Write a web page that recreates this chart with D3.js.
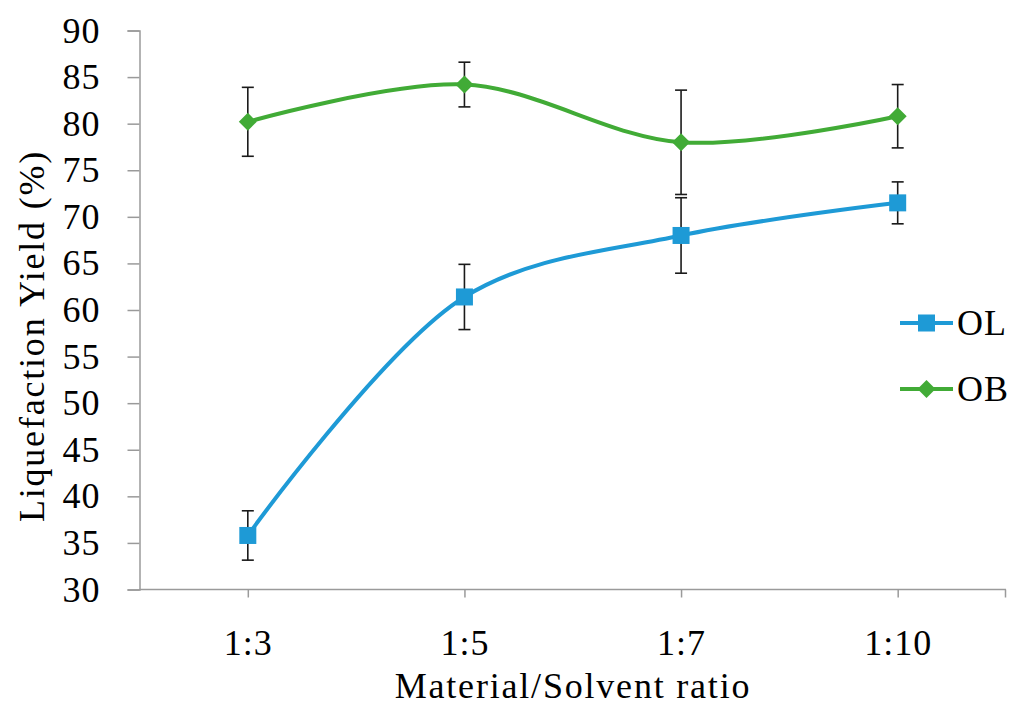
<!DOCTYPE html>
<html>
<head>
<meta charset="utf-8">
<script src="https://cdn.jsdelivr.net/npm/d3@7"></script>
<style>
  body { margin: 0; background: #fff; }
  text { font-family: "Liberation Serif", "Times New Roman", serif; fill: #000; }
</style>
</head>
<body>
<div id="chart"></div>
<script>
// data
var categories = ["1:3", "1:5", "1:7", "1:10"];
var olValues = [35.8, 61.4, 68.0, 71.5];
var olErrors = [2.65, 3.5, 4.05, 2.25];
var obValues = [80.2, 84.2, 78.0, 80.8];
var obErrors = [3.7, 2.4, 5.6, 3.4];
var yTicks = [30, 35, 40, 45, 50, 55, 60, 65, 70, 75, 80, 85, 90];

var series = [
  { name: "OL", values: olValues, errors: olErrors, color: "#1e9ad6", marker: "square" },
  { name: "OB", values: obValues, errors: obErrors, color: "#41ab36", marker: "diamond" }
];

var width = 1011, height = 706;
var margin = { top: 30.5, left: 139.5, right: 5, bottom: 116.5 };
var fontSize = 36;

var svg = d3.select("#chart").append("svg")
  .attr("width", width)
  .attr("height", height);

var x = d3.scalePoint()
  .domain(categories)
  .range([margin.left, width - margin.right])
  .padding(0.5);

var y = d3.scaleLinear()
  .domain([30, 90])
  .range([height - margin.bottom, margin.top]);

var axisColor = "#9a9a9a";

// y axis
var yAxis = svg.append("g")
  .attr("transform", "translate(" + margin.left + ",0)")
  .call(d3.axisLeft(y).tickValues(yTicks).tickSize(12).tickPadding(27));
yAxis.select(".domain").attr("stroke", axisColor).attr("stroke-width", 1.5);
yAxis.selectAll(".tick line").attr("stroke", axisColor).attr("stroke-width", 1.5);
yAxis.selectAll(".tick text")
  .attr("font-size", fontSize)
  .attr("font-family", "Liberation Serif, serif")
  .attr("letter-spacing", 1)
  .attr("fill", "#000");

// x axis (ticks on categories, plus the right end)
var xAxis = svg.append("g")
  .attr("transform", "translate(0," + y(30) + ")")
  .call(d3.axisBottom(x).tickSizeOuter(0).tickSize(8));
xAxis.select(".domain")
  .attr("d", "M" + margin.left + ",0H" + (width - margin.right))
  .attr("stroke", axisColor).attr("stroke-width", 1.5);
xAxis.selectAll(".tick line").attr("stroke", axisColor).attr("stroke-width", 1.5);
xAxis.selectAll(".tick text")
  .attr("y", 65)
  .attr("dy", null)
  .attr("font-size", fontSize)
  .attr("font-family", "Liberation Serif, serif")
  .attr("letter-spacing", 1)
  .attr("fill", "#000");
xAxis.append("line")
  .attr("x1", width - margin.right - 0.5).attr("x2", width - margin.right - 0.5)
  .attr("y1", 0).attr("y2", 8)
  .attr("stroke", axisColor).attr("stroke-width", 1.5);

// axis titles
svg.append("text")
  .attr("x", 573)
  .attr("y", 698)
  .attr("text-anchor", "middle")
  .attr("font-size", fontSize)
  .attr("letter-spacing", 1.8)
  .text("Material/Solvent ratio");

svg.append("text")
  .attr("transform", "translate(44,336) rotate(-90)")
  .attr("text-anchor", "middle")
  .attr("font-size", fontSize)
  .attr("letter-spacing", 1.8)
  .text("Liquefaction Yield (%)");

var line = d3.line()
  .x(function (d, i) { return x(categories[i]); })
  .y(function (d) { return y(d); })
  .curve(d3.curveCatmullRom.alpha(0.5));

var plot = svg.append("g");

series.forEach(function (s) {
  plot.append("path")
    .attr("d", line(s.values))
    .attr("fill", "none")
    .attr("stroke", s.color)
    .attr("stroke-width", 4);
});

// error bars
series.forEach(function (s) {
  var g = plot.append("g").attr("stroke", "#1a1a1a").attr("stroke-width", 1.6);
  s.values.forEach(function (v, i) {
    var cx = x(categories[i]);
    var top = y(v + s.errors[i]), bot = y(v - s.errors[i]);
    g.append("line").attr("x1", cx).attr("x2", cx).attr("y1", top).attr("y2", bot);
    g.append("line").attr("x1", cx - 6).attr("x2", cx + 6).attr("y1", top).attr("y2", top);
    g.append("line").attr("x1", cx - 6).attr("x2", cx + 6).attr("y1", bot).attr("y2", bot);
  });
});

function drawMarker(sel, type, cx, cy, color) {
  if (type === "square") {
    sel.append("rect")
      .attr("x", cx - 8.5).attr("y", cy - 8.5)
      .attr("width", 17).attr("height", 17)
      .attr("fill", color);
  } else {
    sel.append("path")
      .attr("d", "M" + cx + "," + (cy - 9) + "L" + (cx + 9) + "," + cy + "L" + cx + "," + (cy + 9) + "L" + (cx - 9) + "," + cy + "Z")
      .attr("fill", color);
  }
}

series.forEach(function (s) {
  s.values.forEach(function (v, i) {
    drawMarker(plot, s.marker, x(categories[i]), y(v), s.color);
  });
});

// legend
var legend = svg.append("g");
series.forEach(function (s, i) {
  var ly = 323 + i * 66;
  legend.append("line")
    .attr("x1", 900).attr("x2", 953)
    .attr("y1", ly).attr("y2", ly)
    .attr("stroke", s.color).attr("stroke-width", 4);
  drawMarker(legend, s.marker, 926.5, ly, s.color);
  legend.append("text")
    .attr("x", 957)
    .attr("y", ly + 12)
    .attr("font-size", fontSize)
    .attr("letter-spacing", 1)
    .text(s.name);
});
</script>
</body>
</html>
